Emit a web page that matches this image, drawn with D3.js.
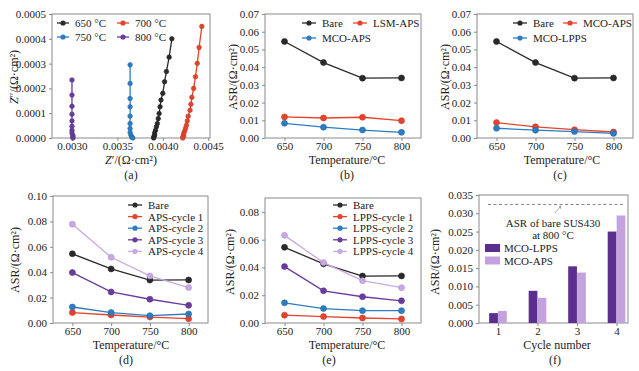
<!DOCTYPE html>
<html><head><meta charset="utf-8">
<script src="https://cdn.jsdelivr.net/npm/d3@7"></script>
<style>
body{margin:0;background:#fff}
text{font-family:"Liberation Serif","Times New Roman",serif;fill:#222}
</style></head>
<body><svg id="chart" width="639" height="371"></svg>
<script>
// ---------- DATA ----------
// (a) Nyquist plots
const z650x = [0.00410,0.00407,0.00404,0.00402,0.00400,0.00398,0.00397,0.00396,0.00395,0.00394,0.00393,0.00392,0.00391,0.00391,0.00390,0.00390];
const z650y = [0.000400,0.000326,0.000268,0.000227,0.000180,0.000153,0.000126,0.000099,0.000078,0.000058,0.000045,0.000031,0.000020,0.000011,0.000004,0.000000];
const z700x = [0.00443,0.00440,0.00438,0.00436,0.00434,0.00432,0.00431,0.00430,0.00428,0.00427,0.00426,0.00425,0.00424,0.00423,0.00423,0.00422,0.00422];
const z700y = [0.000450,0.000365,0.000301,0.000247,0.000200,0.000164,0.000136,0.000112,0.000088,0.000069,0.000051,0.000038,0.000027,0.000018,0.000009,0.000004,0.000000];
const z750x = [0.00364,0.00364,0.00364,0.00364,0.00364,0.00364,0.00364,0.00364,0.00365,0.00366,0.00367];
const z750y = [0.000295,0.000220,0.000159,0.000126,0.000088,0.000058,0.000038,0.000022,0.000011,0.000003,0.000000];
const z800x = [0.00300,0.00300,0.00300,0.00300,0.00300,0.00300,0.00300,0.00300,0.00301,0.00301,0.00301];
const z800y = [0.000234,0.000173,0.000128,0.000096,0.000069,0.000047,0.000031,0.000020,0.000010,0.000004,0.000000];
const aXTicks = [0.0030,0.0035,0.0040,0.0045];
const aYTicks = [0.0000,0.0001,0.0002,0.0003,0.0004,0.0005];

// (b)-(e) ASR vs temperature
const temps = [650,700,750,800];
const bare = [0.0545,0.0426,0.0338,0.0339];
const bLSMAPS = [0.0119,0.0113,0.0117,0.0098];
const bMCOAPS = [0.0083,0.0061,0.0045,0.0032];
const cMCOAPS = [0.0087,0.0063,0.0047,0.0034];
const cMCOLPPS = [0.0055,0.0044,0.0036,0.0026];
const dAPS1 = [0.0082,0.0063,0.0047,0.0034];
const dAPS2 = [0.0126,0.0082,0.0058,0.0071];
const dAPS3 = [0.0397,0.0245,0.0187,0.0139];
const dAPS4 = [0.0778,0.0518,0.0371,0.0279];
const eLPPS1 = [0.0056,0.0046,0.0036,0.0029];
const eLPPS2 = [0.0145,0.0104,0.0089,0.0089];
const eLPPS3 = [0.0406,0.0232,0.0189,0.0160];
const eLPPS4 = [0.0631,0.0435,0.0305,0.0254];
const tempTicks = [650,700,750,800];
const bYTicks = [0,0.01,0.02,0.03,0.04,0.05,0.06,0.07];
const dYTicks = [0,0.02,0.04,0.06,0.08,0.10];
const eYTicks = [0,0.02,0.04,0.06,0.08];

// (f) bars
const cycles = [1,2,3,4];
const fLPPS = [0.0027,0.0088,0.0155,0.0250];
const fAPS = [0.0033,0.0069,0.0138,0.0294];
const fBareRef = 0.0324;
const fYTicks = [0,0.005,0.010,0.015,0.020,0.025,0.030,0.035];

// ---------- STYLE ----------
const SERIF = '"Liberation Serif","Times New Roman",serif';
const C = {black:"#2a2a2a", red:"#e6432d", blue:"#2d7cc1", purple:"#6a3c9f", lilac:"#c9a9e4",
           barDark:"#5b2e90", barLight:"#c4a2de", frame:"#8a8a8a"};
const svg = d3.select("#chart");

function panel(o){
  const g = svg.append("g");
  const x = o.xScale.range([o.l,o.r]);
  const y = d3.scaleLinear().domain(o.yDom).range([o.b,o.t]);
  const ya = g.append("g").attr("transform",`translate(${o.l},0)`)
    .call(d3.axisLeft(y).tickValues(o.yTicks).tickFormat(d3.format(o.yFmt)).tickSize(3).tickPadding(3));
  const xa = g.append("g").attr("transform",`translate(0,${o.b})`)
    .call(d3.axisBottom(x).tickValues(o.xTicks).tickFormat(o.xFmt).tickSize(3).tickPadding(1));
  [ya,xa].forEach(a=>{
    a.attr("font-family",SERIF).attr("font-size",11);
    a.select(".domain").remove();
    a.selectAll("line").attr("stroke",C.frame);
    a.selectAll("text").style("font-family",SERIF).style("font-size","11px").attr("fill","#222");
  });
  g.append("rect").attr("x",o.l).attr("y",o.t).attr("width",o.r-o.l).attr("height",o.b-o.t)
    .attr("fill","none").attr("stroke",C.frame).attr("stroke-width",1);
  const yt = g.append("text").attr("transform",`translate(${o.ytx},${o.yty}) rotate(-90)`)
    .attr("text-anchor","middle").attr("dominant-baseline","central").style("font-size","12px");
  if(o.zTitle){ yt.append("tspan").style("font-style","italic").text("Z"); yt.append("tspan").text(o.yTitle); }
  else yt.text(o.yTitle);
  const xt = g.append("text").attr("x",o.xtx).attr("y",o.xty).attr("text-anchor","middle").style("font-size","12px");
  if(o.zX){ xt.append("tspan").style("font-style","italic").text("Z"); xt.append("tspan").text(o.xTitle); }
  else xt.text(o.xTitle);
  g.append("text").attr("x",o.ltx).attr("y",o.xty+15).attr("text-anchor","middle").style("font-size","12px").text(o.label);
  return {g,x,y};
}

function series(P, xs, ys, color, r){
  const pts = xs.map((d,i)=>[d,ys[i]]);
  P.g.append("path").datum(pts).attr("fill","none").attr("stroke",color).attr("stroke-width",1.3)
    .attr("d",d3.line().x(d=>P.x(d[0])).y(d=>P.y(d[1])));
  P.g.selectAll(null).data(pts).enter().append("circle")
    .attr("cx",d=>P.x(d[0])).attr("cy",d=>P.y(d[1])).attr("r",r)
    .attr("fill",color).attr("stroke",d3.color(color).darker(0.4)).attr("stroke-width",0.6);
}

function legendItem(g, x, y, color, label, w){
  w = w||14;
  g.append("line").attr("x1",x).attr("x2",x+w).attr("y1",y).attr("y2",y).attr("stroke",color).attr("stroke-width",1.3);
  g.append("circle").attr("cx",x+w/2).attr("cy",y).attr("r",2.6).attr("fill",color);
  g.append("text").attr("x",x+w+6).attr("y",y).attr("dominant-baseline","central").style("font-size","11px").text(label);
}

// ---------- (a) ----------
const A = panel({l:52,t:14,r:210,b:138, xScale:d3.scaleLinear().domain([0.00278,0.00452]), yDom:[0,0.0005],
  xTicks:aXTicks, xFmt:d3.format(".4f"), yTicks:aYTicks, yFmt:".4f",
  zTitle:true, yTitle:"″/(Ω·cm²)", ytx:14, yty:77, zX:true, xTitle:"′/(Ω·cm²)", xtx:131, xty:164, ltx:131, label:"(a)"});
series(A, z650x, z650y, C.black, 2.3);
series(A, z700x, z700y, C.red, 2.3);
series(A, z750x, z750y, C.blue, 2.3);
series(A, z800x, z800y, C.purple, 2.3);
legendItem(A.g, 57, 23, C.black, "650 °C", 12);
legendItem(A.g, 117, 23, C.red, "700 °C", 12);
legendItem(A.g, 57, 37, C.blue, "750 °C", 12);
legendItem(A.g, 117, 37, C.purple, "800 °C", 12);

// ---------- (b) ----------
const tScale = ()=>d3.scaleLinear().domain([625,825]);
const B = panel({l:265,t:14,r:421,b:138, xScale:tScale(), yDom:[0,0.07],
  xTicks:tempTicks, xFmt:d3.format("d"), yTicks:bYTicks, yFmt:".2f",
  yTitle:"ASR/(Ω·cm²)", ytx:233, yty:77, xTitle:"Temperature/°C", xtx:347, xty:164, ltx:347, label:"(b)"});
series(B, temps, bare, C.black, 3);
series(B, temps, bLSMAPS, C.red, 3);
series(B, temps, bMCOAPS, C.blue, 3);
legendItem(B.g, 302, 23, C.black, "Bare");
legendItem(B.g, 353, 23, C.red, "LSM-APS");
legendItem(B.g, 302, 38, C.blue, "MCO-APS");

// ---------- (c) ----------
const Cp = panel({l:477,t:14,r:633,b:138, xScale:tScale(), yDom:[0,0.07],
  xTicks:tempTicks, xFmt:d3.format("d"), yTicks:bYTicks, yFmt:".2f",
  yTitle:"ASR/(Ω·cm²)", ytx:445, yty:77, xTitle:"Temperature/°C", xtx:562, xty:164, ltx:560, label:"(c)"});
series(Cp, temps, bare, C.black, 3);
series(Cp, temps, cMCOAPS, C.red, 3);
series(Cp, temps, cMCOLPPS, C.blue, 3);
legendItem(Cp.g, 513, 23, C.black, "Bare");
legendItem(Cp.g, 563, 23, C.red, "MCO-APS");
legendItem(Cp.g, 513, 38, C.blue, "MCO-LPPS");

// ---------- (d) ----------
const D = panel({l:53,t:196,r:208,b:323, xScale:tScale(), yDom:[0,0.10],
  xTicks:tempTicks, xFmt:d3.format("d"), yTicks:dYTicks, yFmt:".2f",
  yTitle:"ASR/(Ω·cm²)", ytx:15, yty:260, xTitle:"Temperature/°C", xtx:131, xty:349, ltx:126, label:"(d)"});
series(D, temps, bare, C.black, 3);
series(D, temps, dAPS1, C.red, 3);
series(D, temps, dAPS2, C.blue, 3);
series(D, temps, dAPS3, C.purple, 3);
series(D, temps, dAPS4, C.lilac, 3);
["Bare","APS-cycle 1","APS-cycle 2","APS-cycle 3","APS-cycle 4"].forEach((t,i)=>
  legendItem(D.g, 128, 205+i*11.6, [C.black,C.red,C.blue,C.purple,C.lilac][i], t));

// ---------- (e) ----------
const E = panel({l:265,t:198,r:421,b:323, xScale:tScale(), yDom:[0,0.09],
  xTicks:tempTicks, xFmt:d3.format("d"), yTicks:eYTicks, yFmt:".2f",
  yTitle:"ASR/(Ω·cm²)", ytx:230, yty:262, xTitle:"Temperature/°C", xtx:347, xty:349, ltx:329, label:"(e)"});
series(E, temps, bare, C.black, 3);
series(E, temps, eLPPS1, C.red, 3);
series(E, temps, eLPPS2, C.blue, 3);
series(E, temps, eLPPS3, C.purple, 3);
series(E, temps, eLPPS4, C.lilac, 3);
["Bare","LPPS-cycle 1","LPPS-cycle 2","LPPS-cycle 3","LPPS-cycle 4"].forEach((t,i)=>
  legendItem(E.g, 333, 205+i*11.6, [C.black,C.red,C.blue,C.purple,C.lilac][i], t));

// ---------- (f) ----------
const F = panel({l:479,t:195,r:628,b:323, xScale:d3.scaleLinear().domain([0.52,4.29]), yDom:[0,0.035],
  xTicks:cycles, xFmt:d3.format("d"), yTicks:fYTicks, yFmt:".3f",
  yTitle:"ASR/(Ω·cm²)", ytx:435, yty:262, xTitle:"Cycle number", xtx:557, xty:349, ltx:555, label:"(f)"});
const sub = d3.scaleBand().domain(["LPPS","APS"]).range([-9,9]).padding(0.02);
const barData = [];
cycles.forEach((c,i)=>{ barData.push({c,k:"LPPS",v:fLPPS[i]}); barData.push({c,k:"APS",v:fAPS[i]}); });
F.g.selectAll(null).data(barData).enter().append("rect")
  .attr("x",d=>F.x(d.c)+sub(d.k)).attr("width",sub.bandwidth())
  .attr("y",d=>F.y(d.v)).attr("height",d=>F.y(0)-F.y(d.v))
  .attr("fill",d=>d.k==="LPPS"?C.barDark:C.barLight);
F.g.append("line").attr("x1",488).attr("x2",623).attr("y1",F.y(fBareRef)).attr("y2",F.y(fBareRef))
  .attr("stroke","#888").attr("stroke-width",1).attr("stroke-dasharray","3,2.5");
svg.append("defs").append("marker").attr("id","ah").attr("viewBox","0 0 6 6").attr("refX",5).attr("refY",3)
  .attr("markerWidth",4).attr("markerHeight",4).attr("orient","auto")
  .append("path").attr("d","M0,0L6,3L0,6Z").attr("fill","#999");
F.g.append("line").attr("x1",555).attr("y1",213).attr("x2",561).attr("y2",F.y(fBareRef)+1.5)
  .attr("stroke","#999").attr("stroke-width",0.8).attr("marker-end","url(#ah)");
F.g.append("text").attr("x",553).attr("y",227).attr("text-anchor","middle").style("font-size","11px").text("ASR of bare SUS430");
F.g.append("text").attr("x",553).attr("y",239).attr("text-anchor","middle").style("font-size","11px").text("at 800 °C");
[["MCO-LPPS",C.barDark],["MCO-APS",C.barLight]].forEach((d,i)=>{
  const yy = 248+i*12.5;
  F.g.append("rect").attr("x",485).attr("y",yy-4).attr("width",15).attr("height",8).attr("fill",d[1]);
  F.g.append("text").attr("x",504).attr("y",yy).attr("dominant-baseline","central").style("font-size","11px").text(d[0]);
});
</script></body></html>
